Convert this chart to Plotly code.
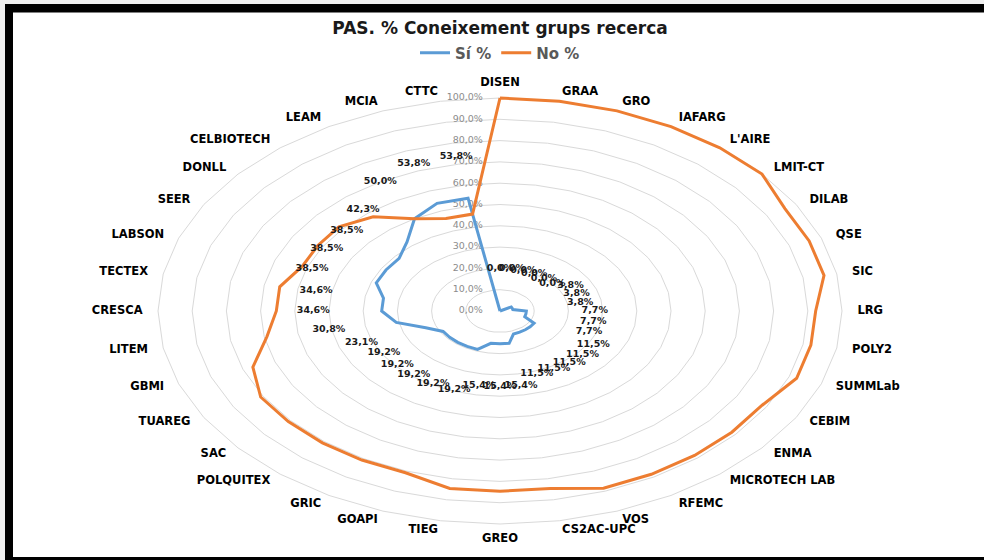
import numpy as np
import plotly.graph_objects as go

# Categories clockwise from the top
categories = [
    "DISEN", "GRAA", "GRO", "IAFARG", "L'AIRE", "LMIT-CT", "DILAB", "QSE", "SIC",
    "LRG", "POLY2", "SUMMLab", "CEBIM", "ENMA", "MICROTECH LAB", "RFEMC", "VOS",
    "CS2AC-UPC", "GREO", "TIEG", "GOAPI", "GRIC", "POLQUITEX", "SAC", "TUAREG",
    "GBMI", "LITEM", "CRESCA", "TECTEX", "LABSON", "SEER", "DONLL", "CELBIOTECH",
    "LEAM", "MCIA", "CTTC",
]
si_pct = [
    0.0, 0.0, 0.0, 0.0, 0.0, 0.0, 3.8, 3.8, 3.8,
    7.7, 7.7, 7.7, 11.5, 11.5, 11.5, 11.5, 11.5,
    15.4, 15.4, 15.4, 19.2, 19.2, 19.2, 19.2, 19.2,
    23.1, 30.8, 34.6, 34.6, 38.5, 38.5, 38.5, 42.3,
    50.0, 53.8, 53.8,
]
no_pct = [
    100.0, 100.0, 100.0, 100.0, 100.0, 100.0, 96.2, 96.2, 96.2,
    92.3, 92.3, 92.3, 88.5, 88.5, 88.5, 88.5, 88.5,
    84.6, 84.6, 84.6, 80.8, 80.8, 80.8, 80.8, 80.8,
    76.9, 69.2, 65.4, 65.4, 61.5, 61.5, 61.5, 57.7,
    50.0, 46.2, 46.2,
]
tick_vals = [0, 10, 20, 30, 40, 50, 60, 70, 80, 90, 100]

BLUE = "#5B9BD5"
ORANGE = "#ED7D31"
GRID = "#D9D9D9"
FONT = "DejaVu Sans"

W, H = 984, 560
CX, CY = 500, 311          # centre of the radar in pixels
PX_X, PX_Y = 3.42, 2.13    # pixels per percent (the picture is stretched sideways)

n = len(categories)
theta = np.deg2rad(np.arange(n) * 360.0 / n)


def to_xy(r, closed=False):
    r = np.asarray(r, dtype=float)
    th = theta
    if closed:
        r = np.append(r, r[0])
        th = np.append(th, th[0])
    return r * np.sin(th), r * np.cos(th)


def fmt(v):
    return f"{v:.1f}%".replace(".", ",")


fig = go.Figure()

# grid rings (36-sided like the Excel radar)
gx, gy = [], []
for t in tick_vals[1:]:
    x, y = to_xy([t] * n, closed=True)
    gx += list(x) + [None]
    gy += list(y) + [None]
fig.add_trace(go.Scatter(x=gx, y=gy, mode="lines", line=dict(color=GRID, width=1),
                         hoverinfo="skip", showlegend=False))

# radial tick labels
fig.add_trace(go.Scatter(
    x=[-5] * len(tick_vals), y=tick_vals, mode="text",
    text=[fmt(t) for t in tick_vals], textposition="middle left",
    textfont=dict(family=FONT, size=9.5, color="#8C8C8C"),
    hoverinfo="skip", showlegend=False, cliponaxis=False,
))

# series
x, y = to_xy(si_pct, closed=True)
fig.add_trace(go.Scatter(x=x, y=y, mode="lines", name="Sí %",
                         line=dict(color=BLUE, width=3)))
x, y = to_xy(no_pct, closed=True)
fig.add_trace(go.Scatter(x=x, y=y, mode="lines", name="No %",
                         line=dict(color=ORANGE, width=3)))

# data labels of Sí % (Excel put them 20 points further out)
x, y = to_xy(np.array(si_pct) + 20)
fig.add_trace(go.Scatter(
    x=x, y=y, mode="text", text=[fmt(v) for v in si_pct], textposition="middle center",
    textfont=dict(family=FONT, size=9.5, color="#1A1A1A", weight="bold"),
    hoverinfo="skip", showlegend=False, cliponaxis=False,
))

# category labels
positions = []
for th in theta:
    s, c = np.sin(th), np.cos(th)
    if abs(s) < 0.05:
        positions.append("top center" if c > 0 else "bottom center")
    elif s > 0:
        positions.append("middle right")
    else:
        positions.append("middle left")
x, y = to_xy([104.5] * n)
fig.add_trace(go.Scatter(
    x=x, y=y, mode="text", text=categories, textposition=positions,
    textfont=dict(family=FONT, size=11.5, color="#000000", weight="bold"),
    hoverinfo="skip", showlegend=False, cliponaxis=False,
))

# frame bits from the screenshot
shapes = [
    dict(type="rect", xref="paper", yref="paper", x0=0, x1=1, y0=1 - 4 / H, y1=1,
         fillcolor="#F0F0F0", line_width=0, layer="below"),
    dict(type="rect", xref="paper", yref="paper", x0=0, x1=5 / W, y0=0, y1=1,
         fillcolor="#F0F0F0", line_width=0, layer="below"),
    dict(type="rect", xref="paper", yref="paper", x0=5 / W, x1=1, y0=1 - 12.5 / H, y1=1 - 4 / H,
         fillcolor="#000000", line_width=0),
    dict(type="rect", xref="paper", yref="paper", x0=5 / W, x1=13 / W, y0=0, y1=1 - 4 / H,
         fillcolor="#000000", line_width=0),
    dict(type="rect", xref="paper", yref="paper", x0=5 / W, x1=1, y0=0, y1=3 / H,
         fillcolor="#000000", line_width=0),
]

fig.update_layout(
    width=W, height=H,
    margin=dict(l=0, r=0, t=0, b=0),
    paper_bgcolor="white", plot_bgcolor="white",
    title=dict(text="PAS. % Coneixement grups recerca", x=CX / W, xanchor="center",
               y=1 - 28 / H, yanchor="middle",
               font=dict(family=FONT, size=17, color="#1A1A1A", weight="bold")),
    legend=dict(orientation="h", x=CX / W, xanchor="center", y=1 - 53 / H, yanchor="middle",
                font=dict(family=FONT, size=15, color="#595959", weight="bold"),
                itemwidth=30, bgcolor="rgba(0,0,0,0)"),
    shapes=shapes,
    showlegend=True,
)
fig.update_xaxes(visible=False, range=[-CX / PX_X, (W - CX) / PX_X], fixedrange=True)
fig.update_yaxes(visible=False, range=[-(H - CY) / PX_Y, CY / PX_Y], fixedrange=True)

# the page body has a default 8px margin; drop it so the chart sits at the corner
fig.write_html("out.html", config={"displayModeBar": False},
               post_script="document.body.style.margin='0px';")
